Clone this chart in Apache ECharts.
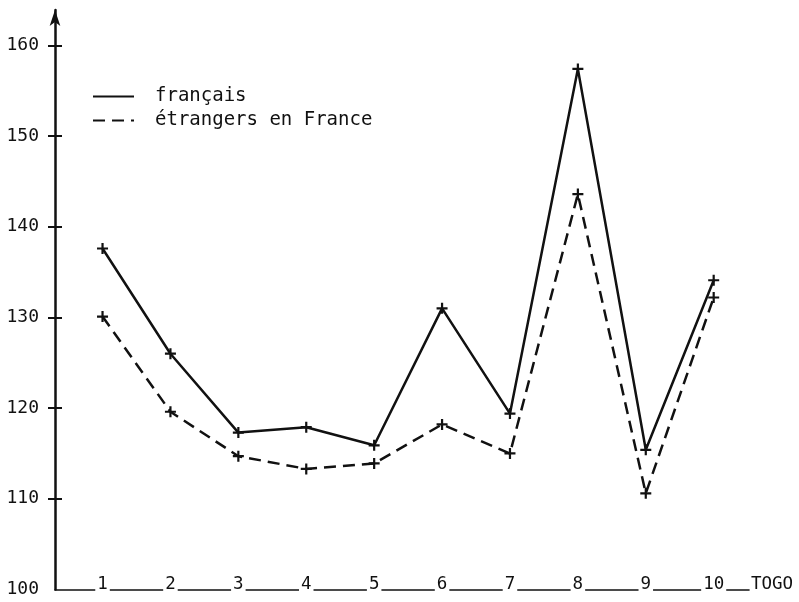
<!DOCTYPE html>
<html><head><meta charset="utf-8">
<script src="https://cdn.jsdelivr.net/npm/echarts@6/dist/echarts.min.js"></script>
<style>html,body{margin:0;padding:0;background:#fff}#c{width:799px;height:602px}</style>
</head><body><div id="c"></div>
<script>
const categories = [1, 2, 3, 4, 5, 6, 7, 8, 9, 10];
const xEndLabel = 'TOGO';
const francais = [137.6, 126.0, 117.3, 117.9, 115.9, 131.0, 119.4, 157.4, 115.4, 134.1];
const etrangers = [130.1, 119.6, 114.7, 113.3, 113.9, 118.2, 115.0, 143.6, 110.6, 132.2];
const yTickLabels = [100, 110, 120, 130, 140, 150, 160];
const yTickMarks = [110, 120, 130, 140, 150, 160];
const seriesNames = ['français', 'étrangers en France'];

const FONT = 'DejaVu Sans Mono';
const INK = '#111';
const plus = 'path://M4,0H6V4H10V6H6V10H4V6H0V4H4Z';
const Y_MIN = 100, Y_MAX = 163.9;

const chart = echarts.init(document.getElementById('c'), null, {renderer: 'canvas'});
chart.setOption({
  backgroundColor: '#fff',
  animation: false,
  grid: {left: 55, right: 799 - 749, top: 10, bottom: 12.5, containLabel: false},
  legend: {
    orient: 'vertical', left: 92, top: 87, padding: 0,
    itemWidth: 41, itemHeight: 14, itemGap: 5,
    itemStyle: {opacity: 0},
    textStyle: {fontFamily: FONT, fontSize: 19, color: INK, padding: [0, 0, 0, 16]},
    data: seriesNames
  },
  xAxis: {
    type: 'value', min: 0.3, max: 10.52,
    name: xEndLabel, nameLocation: 'end', nameGap: 2,
    nameTextStyle: {fontFamily: FONT, fontSize: 17.5, color: INK, verticalAlign: 'bottom', align: 'left', padding: [0, 0, -4, 0]},
    axisLine: {show: true, onZero: false, lineStyle: {color: INK, width: 1.6}},
    axisTick: {show: false},
    splitLine: {show: false},
    axisLabel: {
      customValues: categories, verticalAlign: 'bottom', margin: 4,
      fontFamily: FONT, fontSize: 17.5, color: INK,
      backgroundColor: '#fff', padding: [0, 2, 0, 2]
    }
  },
  yAxis: [{
    type: 'value', min: Y_MIN, max: Y_MAX, position: 'left',
    axisLine: {show: true, lineStyle: {color: INK, width: 2.5}, symbol: ['none', 'arrow'], symbolSize: [8, 16]},
    axisTick: {show: false},
    splitLine: {show: false},
    axisLabel: {customValues: yTickLabels, margin: 16, fontFamily: FONT, fontSize: 18, color: INK}
  }, {
    type: 'value', min: Y_MIN, max: Y_MAX, position: 'left', offset: -7,
    axisLine: {show: true, lineStyle: {color: 'rgba(0,0,0,0)', width: 0}},
    axisTick: {show: true, customValues: yTickMarks, length: 14, lineStyle: {color: INK, width: 2}},
    splitLine: {show: false},
    axisLabel: {show: false}
  }],
  series: [{
    name: seriesNames[0], type: 'line',
    data: categories.map((c, i) => [c, francais[i]]),
    symbol: plus, symbolSize: 11,
    itemStyle: {color: INK},
    lineStyle: {color: INK, width: 2.5, type: 'solid'}
  }, {
    name: seriesNames[1], type: 'line',
    data: categories.map((c, i) => [c, etrangers[i]]),
    symbol: plus, symbolSize: 11,
    itemStyle: {color: INK},
    lineStyle: {color: INK, width: 2.5, type: [12, 7]}
  }]
});
</script></body></html>
